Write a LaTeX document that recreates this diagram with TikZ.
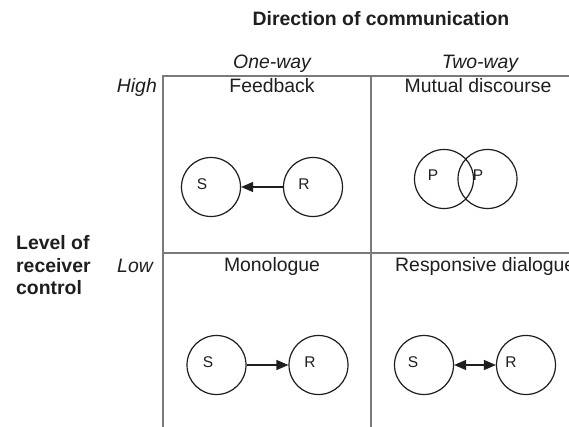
\documentclass[tikz,border=0pt]{standalone}
\usepackage{fontspec}
\setmainfont{Liberation Sans}
\usetikzlibrary{arrows.meta}
\definecolor{ink}{HTML}{1E1E1E}
\definecolor{gridgray}{HTML}{7A7A7A}
\begin{document}
\begin{tikzpicture}[x=1pt,y=-1pt,
  txt/.style={anchor=base,inner sep=0pt,text=ink,font=\fontsize{19.4}{22}\selectfont},
  ital/.style={txt,font=\fontsize{19.4}{22}\selectfont\itshape},
  bld/.style={txt,font=\fontsize{19.4}{22}\selectfont\bfseries},
  party/.style={circle,draw=ink,line width=1.2pt,minimum size=59pt,inner sep=0pt},
  plabel/.style={anchor=base,inner sep=0pt,text=ink,font=\fontsize{15.5}{18}\selectfont},
  gridline/.style={draw=gridgray,line width=1.3pt},
  msg/.style={draw=ink,line width=1.3pt},
  tip/.tip={Triangle[length=12pt,width=10pt]}
]
\useasboundingbox (0,0) rectangle (569,427);
\fill[white] (0,0) rectangle (569,427);

% grid
\coordinate (tl) at (163,76);
\coordinate (tr) at (569,76);
\coordinate (ml) at (163,253);
\coordinate (mr) at (569,253);
\coordinate (bl) at (163,427);
\coordinate (tm) at (371,76);
\coordinate (bm) at (371,427);
\draw[gridline] (tr) -- (tl) -- (bl);
\draw[gridline] (ml) -- (mr);
\draw[gridline] (tm) -- (bm);

% headings
\node[bld] (title) at (381,26) {Direction of communication};
\node[ital] (oneway) at (272,68.3) {One-way};
\node[ital] (twoway) at (480,68.3) {Two-way};
\node[ital,anchor=base east] (high) at (157,92.7) {High};
\node[ital,anchor=base east] (low) at (153,272.5) {Low};
\node[bld,anchor=base west] (lvl1) at (16,250) {Level of};
\node[bld,anchor=base west] (lvl2) at (16,272.5) {receiver};
\node[bld,anchor=base west] (lvl3) at (16,294.5) {control};

% cell titles
\node[txt] (fb) at (272,92.7) {Feedback};
\node[txt] (md) at (478,92.7) {Mutual discourse};
\node[txt] (mono) at (272,271.7) {Monologue};
\node[txt,anchor=base west] (rd) at (395,271.7) {Responsive dialogue};

% Feedback
\node[party] (fbS) at (211,187) {};
\node[party] (fbR) at (313,187) {};
\node[plabel] (fbSl) at (202,190) {S};
\node[plabel] (fbRl) at (304,190) {R};
\draw[msg,-{tip}] (fbR.west) -- (fbS.east);

% Mutual discourse
\node[party] (mdP1) at (444,179) {};
\node[party] (mdP2) at (487.5,179) {};
\node[plabel] (mdP1l) at (433,180.7) {P};
\node[plabel] (mdP2l) at (478,180.7) {P};

% Monologue
\node[party] (moS) at (216.5,365) {};
\node[party] (moR) at (318.5,365) {};
\node[plabel] (moSl) at (208,367.3) {S};
\node[plabel] (moRl) at (310,367.3) {R};
\draw[msg,-{tip}] (moS.east) -- (moR.west);

% Responsive dialogue
\node[party] (rdS) at (424,365) {};
\node[party] (rdR) at (526,365) {};
\node[plabel] (rdSl) at (413,367.3) {S};
\node[plabel] (rdRl) at (511,367.3) {R};
\draw[msg,{tip}-{tip}] (rdS.east) -- (rdR.west);
\end{tikzpicture}
\end{document}
